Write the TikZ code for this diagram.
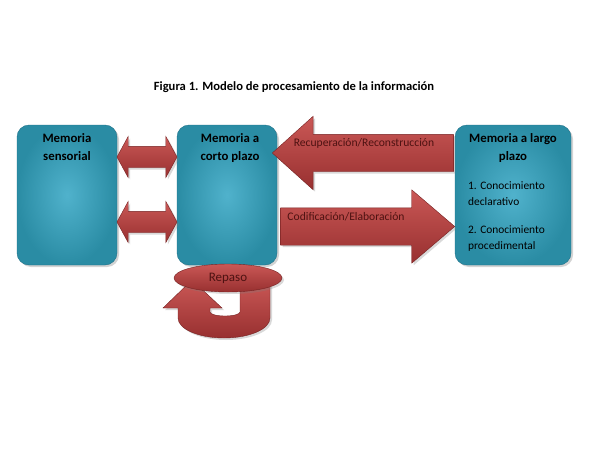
\documentclass[tikz,border=0pt]{standalone}
\usepackage{fontspec}
\setmainfont{Carlito}
\usetikzlibrary{positioning,shapes.arrows,shapes.geometric,shadows}

\definecolor{tealmid}{RGB}{80,178,204}
\definecolor{tealedge}{RGB}{42,140,164}
\definecolor{tealline}{RGB}{30,112,136}
\definecolor{redlight}{RGB}{202,88,86}
\definecolor{reddark}{RGB}{152,48,48}
\definecolor{redline}{RGB}{118,34,34}
\definecolor{redtext}{RGB}{78,18,18}

\begin{document}
\begin{tikzpicture}[x=1pt,y=-1pt,
  memory/.style={rectangle,rounded corners=12pt,draw=tealline,inner color=tealmid,outer color=tealedge,minimum width=100pt,minimum height=140pt,drop shadow={opacity=0.35,shadow xshift=2pt,shadow yshift=-2pt}},
  boxtitle/.style={font=\bfseries\fontsize{12.8}{18}\selectfont,align=center,inner sep=0pt},
  blockarrow/.style={draw=redline,top color=redlight,bottom color=reddark,inner xsep=0pt,drop shadow={opacity=0.3,shadow xshift=2pt,shadow yshift=-2pt}},
  dblarrow/.style={blockarrow,double arrow,inner ysep=10.5pt,minimum height=60pt,double arrow head extend=10pt,double arrow tip angle=123},
  bigarrow/.style={blockarrow,single arrow,inner ysep=18.5pt,single arrow head extend=18pt},
  arrowtext/.style={font=\fontsize{11.6}{13}\selectfont,text=redtext,inner sep=0pt}]

  \useasboundingbox (0,0) rectangle (600,450);

  \node(title) at (294,87) [font=\bfseries\fontsize{12.6}{15}\selectfont,inner sep=0pt]{Figura 1. Modelo de procesamiento de la información};

  % memory boxes
  \node(sens) at (67,195)  [memory]{};
  \node(corto) at (227,195) [memory]{};
  \node(largo) at (513,195) [memory,minimum width=116pt]{};

  \node(senstext) [boxtitle,below=9pt of sens.north]{Memoria\\sensorial};
  \node(cortotext)[boxtitle,below=9pt of corto.north,xshift=3pt]{Memoria a\\corto plazo};
  \node(largotext)[boxtitle,below=9pt of largo.north]{Memoria a largo\\plazo};
  \node(list) at (468,181) [anchor=north west,inner sep=0pt,align=left,font=\fontsize{11.4}{16}\selectfont]{1. Conocimiento\\declarativo\\[12pt]2. Conocimiento\\procedimental};

  % arrows sensorial <-> corto plazo
  \node(dblup)   at (147,157) [dblarrow]{};
  \node(dbldown) at (147,222) [dblarrow]{};

  % recuperacion and codificacion
  \node(recup) at (272,153) [bigarrow,anchor=tip,minimum height=181pt,single arrow tip angle=84,shape border rotate=180]{};
  \node(codif) at (455,226.5) [bigarrow,anchor=tip,minimum height=174pt,single arrow tip angle=81]{};
  \node(recuptext) at (364,143) [arrowtext]{Recuperación/Reconstrucción};
  \node(codiftext) at (346,217) [arrowtext]{Codificación/Elaboración};

  % repaso loop
  \path[blockarrow] (270,285) -- (270,318) arc[start angle=0,end angle=180,x radius=46,y radius=20]
    -- (178,308) -- (163,308) -- (192,280) -- (222,308) -- (210,308) -- (210,312)
    arc[start angle=180,end angle=0,x radius=15,y radius=4] -- (240,285) -- cycle;
  \node(repaso) at (228,278) [ellipse,blockarrow,inner sep=0pt,minimum width=108pt,minimum height=28pt,font=\fontsize{13}{14}\selectfont,text=redtext]{Repaso};
\end{tikzpicture}
\end{document}
